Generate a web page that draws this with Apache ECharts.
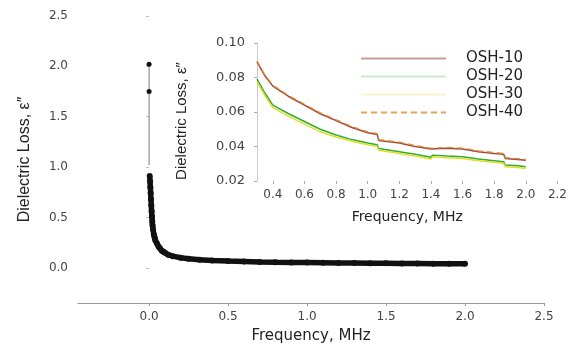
<!DOCTYPE html>
<html>
<head>
<meta charset="utf-8">
<title>Dielectric Loss</title>
<script src="https://cdn.jsdelivr.net/npm/echarts@6/dist/echarts.min.js"></script>
<style>
    html, body { margin: 0; padding: 0; background: #fff; }
    #chart { width: 570px; height: 350px; }
</style>
</head>
<body>
<div id="chart"></div>
<script>
/*主图数据*/
var mainFreq = [0.004,0.006,0.008,0.010,0.012,0.014,0.016,0.018,0.020,0.022,0.025,0.030,0.035,0.040,0.050,0.060,0.070,0.080,0.090,0.10,0.12,0.15,0.20,0.25,0.32,0.40,0.50,0.60,0.70,0.80,0.90,1.00,1.10,1.20,1.30,1.40,1.50,1.60,1.70,1.80,1.90,2.00];
var mainLoss = [0.91,0.86,0.80,0.74,0.68,0.62,0.56,0.51,0.46,0.42,0.38,0.33,0.30,0.27,0.24,0.21,0.19,0.17,0.16,0.15,0.13,0.115,0.10,0.09,0.08,0.072,0.066,0.062,0.058,0.055,0.053,0.051,0.049,0.047,0.046,0.045,0.044,0.043,0.042,0.041,0.040,0.039];
/*0频处的竖线点*/
var spikeFreq = [0, 0, 0];
var spikeLoss = [2.02, 1.75, 1.02];
var mainXTicks = [0, 0.5, 1.0, 1.5, 2.0, 2.5];
var mainYTicks = [0, 0.5, 1.0, 1.5, 2.0, 2.5];

/*插图数据*/
var insetFreq = [0.30,0.35,0.40,0.50,0.60,0.70,0.80,0.90,1.00,1.06,1.07,1.20,1.30,1.40,1.41,1.50,1.60,1.70,1.80,1.86,1.87,1.95,2.00];
var osh10 = [0.089,0.081,0.075,0.069,0.064,0.059,0.055,0.051,0.048,0.047,0.0435,0.042,0.040,0.0385,0.0395,0.039,0.0385,0.037,0.036,0.0355,0.033,0.0325,0.032];
var osh20 = [0.079,0.071,0.064,0.059,0.0545,0.050,0.0467,0.044,0.042,0.041,0.0388,0.037,0.0355,0.0338,0.035,0.0345,0.034,0.0328,0.0318,0.0312,0.0293,0.0288,0.0283];
var osh30 = [0.0775,0.0695,0.0625,0.0575,0.053,0.0485,0.0455,0.043,0.041,0.040,0.0378,0.036,0.0345,0.0328,0.034,0.0335,0.033,0.0318,0.0308,0.0302,0.0283,0.0278,0.0273];
var osh40 = [0.0895,0.0815,0.0755,0.0695,0.0645,0.0595,0.0555,0.0515,0.0485,0.0475,0.044,0.0425,0.0405,0.039,0.040,0.0395,0.039,0.0375,0.0365,0.036,0.0335,0.033,0.0325];
var insetXTicks = [0.4, 0.6, 0.8, 1.0, 1.2, 1.4, 1.6, 1.8, 2.0, 2.2];
var legendNames = ['OSH-10', 'OSH-20', 'OSH-30', 'OSH-40'];
var legendFade = [0.55, 0.25, 0.25, 0.8];

var tickFont = 'DejaVu Sans';
var narrowFont = "'Liberation Sans Narrow', 'Liberation Sans', Arial";

function pairs(xs, ys) {
    var out = [];
    for (var i = 0; i < xs.length; i++) {
        out.push([xs[i], ys[i]]);
    }
    return out;
}

var spikeData = pairs(spikeFreq, spikeLoss);
// 最下面的点不画符号
spikeData[2] = {value: spikeData[2], symbol: 'none'};

/*图例：样线淡一些*/
var legendData = [];
for (var k = 0; k < legendNames.length; k++) {
    legendData.push({name: legendNames[k], lineStyle: {opacity: legendFade[k]}});
}

var _thisChart = echarts.init(document.getElementById('chart'));
_thisChart.setOption({
    animation: false,
    backgroundColor: '#fff',
    legend: {
        orient: 'vertical',
        left: 355,
        top: 46,
        itemWidth: 85,
        itemHeight: 12,
        itemGap: 3,
        itemStyle: {opacity: 0},
        formatter: function (name) { return '{t|' + name + '}'; },
        textStyle: {
            rich: {
                t: {fontFamily: tickFont, fontSize: 15, color: '#222', padding: [0, 0, 0, 15]}
            }
        },
        data: legendData
    },
    grid: [
        {left: 78, right: 26, top: 16, bottom: 47},
        {left: 257, right: 9, top: 43, bottom: 169}
    ],
    xAxis: [
        {
            type: 'value',
            gridIndex: 0,
            min: -0.45,
            max: 2.5,
            name: 'Frequency, MHz',
            nameLocation: 'middle',
            nameGap: 26,
            nameMoveOverlap: false,
            nameTextStyle: {fontFamily: tickFont, fontSize: 15, color: '#222'},
            axisLine: {show: true, onZero: false, lineStyle: {color: '#999', width: 1}},
            axisTick: {show: true, length: 3, customValues: mainXTicks, lineStyle: {color: '#999'}},
            axisLabel: {
                customValues: mainXTicks,
                margin: 8,
                fontFamily: tickFont, fontSize: 12, color: '#444',
                formatter: function (v) { return v.toFixed(1); }
            },
            splitLine: {show: false}
        },
        {
            type: 'value',
            gridIndex: 1,
            min: 0.3,
            max: 2.2,
            name: 'Frequency, MHz',
            nameLocation: 'middle',
            nameGap: 29,
            nameMoveOverlap: false,
            nameTextStyle: {fontFamily: tickFont, fontSize: 14, color: '#222'},
            axisLine: {show: false},
            axisTick: {show: true, length: 3, customValues: insetXTicks, lineStyle: {color: '#aaa'}},
            axisLabel: {
                customValues: insetXTicks,
                margin: 8,
                fontFamily: tickFont, fontSize: 12, color: '#444',
                formatter: function (v) { return v.toFixed(1); }
            },
            splitLine: {show: false}
        }
    ],
    yAxis: [
        {
            type: 'value',
            gridIndex: 0,
            min: -0.35,
            max: 2.5,
            name: 'Dielectric Loss, \u03b5\u2033',
            nameLocation: 'middle',
            nameGap: 45,
            nameMoveOverlap: false,
            nameTextStyle: {fontFamily: narrowFont, fontSize: 16, color: '#222'},
            axisLine: {show: false},
            axisTick: {show: true, length: 3, customValues: mainYTicks, lineStyle: {color: '#bbb'}},
            axisLabel: {
                customValues: mainYTicks,
                margin: 10,
                fontFamily: tickFont, fontSize: 12, color: '#444',
                formatter: function (v) { return v.toFixed(1); }
            },
            splitLine: {show: false}
        },
        {
            type: 'value',
            gridIndex: 1,
            min: 0.02,
            max: 0.10,
            interval: 0.02,
            name: 'Dielectric Loss, \u03b5\u2033',
            nameLocation: 'middle',
            nameGap: 68,
            nameMoveOverlap: false,
            nameTextStyle: {fontFamily: narrowFont, fontSize: 15, color: '#222', padding: [0, 18, 0, 0]},
            axisLine: {show: true, lineStyle: {color: '#ccc', width: 1}},
            axisTick: {show: true, length: 3, lineStyle: {color: '#aaa'}},
            axisLabel: {
                margin: 12,
                fontFamily: tickFont, fontSize: 13, color: '#444',
                formatter: function (v) { return v.toFixed(2); }
            },
            splitLine: {show: false}
        }
    ],
    series: [
        /*主图曲线*/
        {
            type: 'line',
            xAxisIndex: 0, yAxisIndex: 0,
            data: pairs(mainFreq, mainLoss),
            symbol: 'circle',
            symbolSize: 6,
            itemStyle: {color: '#111'},
            lineStyle: {color: '#111', width: 5.5},
            z: 3
        },
        {
            type: 'line',
            xAxisIndex: 0, yAxisIndex: 0,
            data: spikeData,
            symbol: 'circle',
            symbolSize: 5,
            itemStyle: {color: '#111'},
            lineStyle: {color: '#777', width: 1}
        },
        /*插图曲线*/
        {
            name: 'OSH-10',
            type: 'line',
            xAxisIndex: 1, yAxisIndex: 1,
            data: pairs(insetFreq, osh10),
            symbol: 'none',
            itemStyle: {color: '#9b4a3c'},
            lineStyle: {color: '#9b4a3c', width: 1.5}
        },
        {
            name: 'OSH-20',
            type: 'line',
            xAxisIndex: 1, yAxisIndex: 1,
            data: pairs(insetFreq, osh20),
            symbol: 'none',
            itemStyle: {color: '#2fae2f'},
            lineStyle: {color: '#2fae2f', width: 1.5}
        },
        {
            name: 'OSH-30',
            type: 'line',
            xAxisIndex: 1, yAxisIndex: 1,
            data: pairs(insetFreq, osh30),
            symbol: 'none',
            itemStyle: {color: '#e4dc2a'},
            lineStyle: {color: '#e4dc2a', width: 1.5}
        },
        {
            name: 'OSH-40',
            type: 'line',
            xAxisIndex: 1, yAxisIndex: 1,
            data: pairs(insetFreq, osh40),
            symbol: 'none',
            itemStyle: {color: '#e08a2e'},
            lineStyle: {color: '#e08a2e', width: 1.3, type: [6, 4]}
        }
    ]
});
</script>
</body>
</html>
